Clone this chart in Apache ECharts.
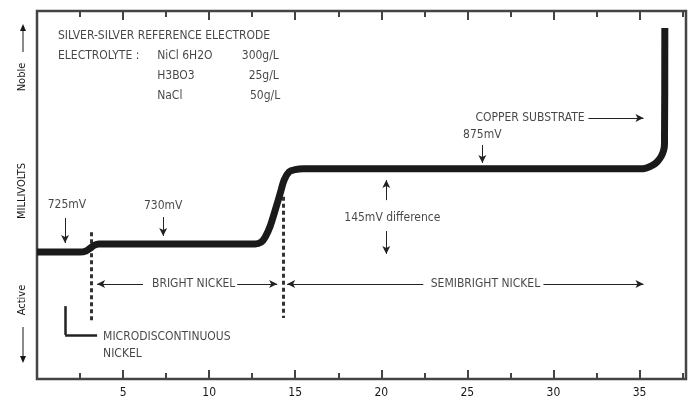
<!DOCTYPE html>
<html><head><meta charset="utf-8">
<script src="https://cdn.jsdelivr.net/npm/echarts@6/dist/echarts.min.js"></script>
<style>html,body{margin:0;padding:0;background:#fff}#c{width:697px;height:401px}</style>
</head><body><div id="c"></div>
<script>
// Electrode potential trace (x = thickness scale units, y = relative potential, 0..100 of plot height)
const xPos = [0, 2.5, 2.85, 3.08, 3.31, 3.6, 12.67, 13.02, 13.26, 13.55, 13.84, 14.13, 14.36, 14.65, 15.0, 15.47, 35.0, 35.38, 35.73, 36.03, 36.26, 36.40, 36.45, 36.47];
const potential = [34.5, 34.5, 34.8, 35.5, 36.3, 36.7, 36.7, 37.2, 38.6, 41.6, 45.9, 50.5, 54.1, 56.3, 56.9, 57.1, 57.1, 57.3, 58.0, 59.05, 60.5, 62.1, 63.9, 95.4];
const xTickLabels = ['5', '10', '15', '20', '25', '30', '35'];
const levelLabels = ['725mV', '730mV', '875mV'];
const diffLabel = '145mV difference';
const infoLines = ['SILVER-SILVER REFERENCE ELECTRODE', 'ELECTROLYTE :'];
const chemNames = ['NiCl 6H2O', 'H3BO3', 'NaCl'];
const chemConc = ['300g/L', '25g/L', '50g/L'];
const regionLabels = ['BRIGHT NICKEL', 'SEMIBRIGHT NICKEL', 'COPPER SUBSTRATE'];
const microLabel = ['MICRODISCONTINUOUS', 'NICKEL'];
const axisNames = ['Noble', 'MILLIVOLTS', 'Active'];

const FONT = "'Liberation Sans Narrow','Arial Narrow','DejaVu Sans Condensed',sans-serif";
const TXT = '#161616';
const trace = xPos.map((x, i) => [x, potential[i]]);

function txt(x, y, s, align) {
  return {value: [x, y], label: {show: true, formatter: s, align: align || 'left'}};
}
function arrow(x1, y1, x2, y2) {
  return [{coord: [x1, y1], symbol: 'none'}, {coord: [x2, y2], symbol: 'arrow', symbolSize: [6, 8]}];
}
function seg(x1, y1, x2, y2, style) {
  return [{coord: [x1, y1], symbol: 'none', lineStyle: style}, {coord: [x2, y2], symbol: 'none'}];
}

const annText = [
  txt(1.22, 93.2, infoLines[0]),
  txt(1.22, 87.8, infoLines[1]),
  txt(6.98, 87.8, chemNames[0]),
  txt(6.98, 82.3, chemNames[1]),
  txt(6.98, 76.9, chemNames[2]),
  txt(14.05, 87.8, chemConc[0], 'right'),
  txt(14.05, 82.3, chemConc[1], 'right'),
  txt(14.13, 76.9, chemConc[2], 'right'),
  txt(1.74, 47.3, levelLabels[0], 'center'),
  txt(7.33, 47.0, levelLabels[1], 'center'),
  txt(25.87, 66.3, levelLabels[2], 'center'),
  txt(20.64, 43.75, diffLabel, 'center'),
  txt(9.10, 25.8, regionLabels[0], 'center'),
  txt(26.05, 25.8, regionLabels[1], 'center'),
  txt(25.47, 70.9, regionLabels[2]),
  txt(3.84, 11.4, microLabel[0]),
  txt(3.84, 6.8, microLabel[1])
];

const dashStyle = {type: [4, 3], width: 3, color: '#333'};
const bracketStyle = {type: 'solid', width: 2.5, color: '#222'};
const annLines = [
  arrow(1.63, 43.75, 1.63, 36.96),
  arrow(7.33, 44.0, 7.33, 38.86),
  arrow(25.87, 63.6, 25.87, 58.7),
  arrow(32.03, 70.9, 35.23, 70.9),
  arrow(20.29, 48.6, 20.29, 54.1),
  arrow(20.29, 40.2, 20.29, 34.0),
  arrow(6.16, 25.8, 3.49, 25.8),
  arrow(11.63, 25.8, 13.95, 25.8),
  arrow(22.44, 25.8, 14.53, 25.8),
  arrow(29.42, 25.8, 35.23, 25.8),
  seg(3.14, 39.9, 3.14, 15.5, dashStyle),
  seg(14.30, 49.5, 14.30, 16.6, dashStyle),
  seg(1.63, 19.8, 1.63, 12.0, bracketStyle),
  seg(1.63, 12.0, 3.49, 12.0, bracketStyle)
];

function xAxisCfg(pos, labels) {
  return {
    type: 'value', position: pos, min: 0, max: 37.7, interval: 5,
    axisLine: {show: false}, splitLine: {show: false},
    axisTick: {show: true, inside: true, length: 9, lineStyle: {color: '#444', width: 2}},
    minorTick: {show: true, splitNumber: 2, length: 6, lineStyle: {color: '#444', width: 2}},
    axisLabel: {show: labels, margin: 8, fontFamily: FONT, fontSize: 12, color: TXT,
      formatter: v => { const s = String(v); return xTickLabels.indexOf(s) >= 0 ? s : ''; }}
  };
}

const chart = echarts.init(document.getElementById('c'), null, {renderer: 'canvas'});
chart.setOption({
  animation: false,
  backgroundColor: '#fff',
  grid: {left: 37, right: 11, top: 11, bottom: 22, show: true, borderColor: '#444', borderWidth: 2.5, backgroundColor: 'transparent'},
  xAxis: [xAxisCfg('bottom', true), xAxisCfg('top', false)],
  yAxis: {type: 'value', min: 0, max: 100, show: false},
  series: [
    {
      type: 'line', data: trace, xAxisIndex: 0, showSymbol: false, symbol: 'none',
      smooth: 0.3,
      lineStyle: {color: '#1a1a1a', width: 7, cap: 'butt', join: 'round'},
      z: 5
    },
    {
      type: 'scatter', data: annText, xAxisIndex: 0, symbolSize: 0, silent: true,
      label: {show: true, position: 'inside', fontFamily: FONT, fontSize: 12, color: TXT, verticalAlign: 'middle'},
      markLine: {silent: true, animation: false, label: {show: false},
        lineStyle: {type: 'solid', color: '#222', width: 1}, data: annLines},
      z: 6
    }
  ],
  graphic: [
    {type: 'text', x: 22, y: 77, rotation: Math.PI / 2, style: {text: axisNames[0], font: '11px ' + FONT, fill: TXT, align: 'center', verticalAlign: 'middle'}},
    {type: 'text', x: 22, y: 191, rotation: Math.PI / 2, style: {text: axisNames[1], font: '11px ' + FONT, fill: TXT, align: 'center', verticalAlign: 'middle'}},
    {type: 'text', x: 22, y: 300, rotation: Math.PI / 2, style: {text: axisNames[2], font: '11px ' + FONT, fill: TXT, align: 'center', verticalAlign: 'middle'}},
    {type: 'line', shape: {x1: 23, y1: 52, x2: 23, y2: 30}, style: {stroke: TXT, lineWidth: 1}},
    {type: 'polygon', shape: {points: [[20, 31], [26, 31], [23, 24]]}, style: {fill: TXT}},
    {type: 'line', shape: {x1: 23, y1: 327, x2: 23, y2: 357}, style: {stroke: TXT, lineWidth: 1}},
    {type: 'polygon', shape: {points: [[20, 356], [26, 356], [23, 363]]}, style: {fill: TXT}}
  ]
});
</script></body></html>
